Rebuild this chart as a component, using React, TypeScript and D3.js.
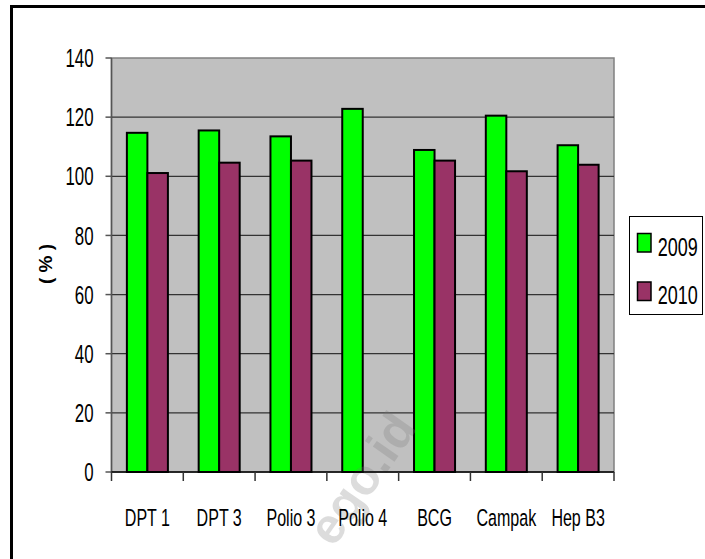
import React from "react";
import * as d3 from "d3";

const categories = ["DPT 1", "DPT 3", "Polio 3", "Polio 4", "BCG", "Campak", "Hep B3"];
const seriesNames = ["2009", "2010"];
const values2009 = [114.7, 115.5, 113.5, 122.8, 108.9, 120.5, 110.5];
const values2010: (number | null)[] = [101.1, 104.6, 105.3, null, 105.3, 101.7, 103.9];
const yTicks = [0, 20, 40, 60, 80, 100, 120, 140];
const colors = ["#00FF00", "#993366"];

const W = 705;
const H = 559;
const plot = { left: 111.5, right: 614, top: 58, bottom: 472 };

// condensed text, the original uses a narrow font
function NarrowText(props: {
  x: number;
  y: number;
  size: number;
  sx: number;
  anchor?: string;
  children: React.ReactNode;
}) {
  return (
    <text
      transform={`translate(${props.x},${props.y}) scale(${props.sx},1)`}
      fontSize={props.size}
      fontFamily="'Liberation Sans', Arial, sans-serif"
      textAnchor={props.anchor || "start"}
      fill="#000"
    >
      {props.children}
    </text>
  );
}

export default function App() {
  const x0 = d3.scaleBand().domain(categories).range([plot.left, plot.right]).padding(0);
  const step = x0.step();
  const groupW = (step * 2) / 3.5;
  const x1 = d3
    .scaleBand()
    .domain(seriesNames)
    .range([(step - groupW) / 2, (step + groupW) / 2])
    .padding(0);
  const y = d3.scaleLinear().domain([0, 140]).range([plot.bottom, plot.top]);

  const series = [values2009, values2010];
  const boundaries = d3.range(categories.length + 1).map((i) => plot.left + i * step);

  return (
    <svg
      width={W}
      height={H}
      style={{ position: "absolute", left: 0, top: 0, background: "#fff" }}
    >
      {/* outer frame, cut at right and bottom */}
      <rect x={11.5} y={6.5} width={760} height={620} fill="#fff" stroke="#000" strokeWidth={3} />

      {/* plot area */}
      <rect
        x={plot.left}
        y={plot.top}
        width={plot.right - plot.left}
        height={plot.bottom - plot.top}
        fill="#C0C0C0"
        stroke="#808080"
        strokeWidth={1.5}
      />
      {yTicks
        .filter((t) => t > 0 && t < 140)
        .map((t) => (
          <line
            key={"g" + t}
            x1={plot.left}
            x2={plot.right}
            y1={y(t)}
            y2={y(t)}
            stroke="#333"
            strokeWidth={1.2}
          />
        ))}

      {/* bars */}
      {series.map((vals, si) =>
        vals.map((v, ci) =>
          v == null ? null : (
            <rect
              key={`b${si}-${ci}`}
              x={(x0(categories[ci]) as number) + (x1(seriesNames[si]) as number)}
              y={y(v)}
              width={x1.bandwidth()}
              height={y(0) - y(v)}
              fill={colors[si]}
              stroke="#000"
              strokeWidth={2}
            />
          )
        )
      )}

      {/* watermark */}
      <text
        transform="translate(418,428) rotate(-55)"
        textAnchor="end"
        fontSize={50}
        fontWeight="bold"
        fontFamily="'Liberation Sans', Arial, sans-serif"
        fill="#777"
        opacity={0.25}
      >
        ego.id
      </text>

      {/* y axis */}
      <line x1={plot.left} x2={plot.left} y1={plot.top} y2={plot.bottom} stroke="#555" strokeWidth={1.5} />
      {yTicks.map((t) => (
        <g key={"y" + t}>
          <line x1={plot.left - 6} x2={plot.left} y1={y(t)} y2={y(t)} stroke="#555" strokeWidth={1.5} />
          <NarrowText x={93.5} y={y(t) + 9.2} size={25.5} sx={0.66} anchor="end">
            {t}
          </NarrowText>
        </g>
      ))}

      {/* x axis */}
      <line x1={plot.left} x2={plot.right} y1={plot.bottom} y2={plot.bottom} stroke="#000" strokeWidth={1.5} />
      {boundaries.map((b, i) => (
        <line key={"t" + i} x1={b} x2={b} y1={plot.bottom} y2={plot.bottom + 9} stroke="#333" strokeWidth={1.5} />
      ))}
      {categories.map((c) => (
        <NarrowText key={c} x={(x0(c) as number) + step / 2} y={525.5} size={24.3} sx={0.66} anchor="middle">
          {c}
        </NarrowText>
      ))}

      {/* y title */}
      <text
        transform="translate(52,264) rotate(-90)"
        textAnchor="middle"
        fontSize={19}
        fontWeight="bold"
        fontFamily="'Liberation Sans', Arial, sans-serif"
        fill="#000"
      >
        ( % )
      </text>

      {/* legend */}
      <rect x={629.5} y={216.5} width={73} height={98} fill="#fff" stroke="#000" strokeWidth={1} />
      {seriesNames.map((s, i) => (
        <g key={"l" + s}>
          <rect
            x={637.5}
            y={233.5 + i * 48.5}
            width={13.5}
            height={18.5}
            fill={colors[i]}
            stroke="#000"
            strokeWidth={1.5}
          />
          <NarrowText x={657.7} y={255.5 + i * 48.5} size={26.5} sx={0.68}>
            {s}
          </NarrowText>
        </g>
      ))}
    </svg>
  );
}
